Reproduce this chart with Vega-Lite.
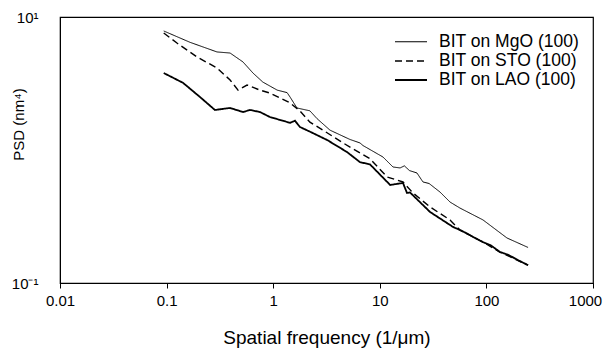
{
  "$schema": "https://vega.github.io/schema/vega-lite/v6.json",
  "width": 533,
  "height": 266,
  "autosize": {"type": "none"},
  "padding": {"left": 60, "top": 17, "right": 15, "bottom": 71},
  "background": "white",
  "config": {
    "font": "Liberation Sans",
    "view": {"stroke": "black", "strokeWidth": 1.2},
    "axis": {"grid": false, "domainColor": "black", "tickColor": "black", "labelColor": "black", "titleColor": "black", "titleFontWeight": "normal"}
  },
  "data": {"values": [
    {"s": "BIT on MgO (100)", "f": 0.094, "p": 7.85},
    {"s": "BIT on MgO (100)", "f": 0.166, "p": 6.45},
    {"s": "BIT on MgO (100)", "f": 0.297, "p": 5.46},
    {"s": "BIT on MgO (100)", "f": 0.394, "p": 5.36},
    {"s": "BIT on MgO (100)", "f": 0.521, "p": 4.59},
    {"s": "BIT on MgO (100)", "f": 0.646, "p": 3.79},
    {"s": "BIT on MgO (100)", "f": 0.80, "p": 3.24},
    {"s": "BIT on MgO (100)", "f": 1.09, "p": 2.82},
    {"s": "BIT on MgO (100)", "f": 1.35, "p": 2.70},
    {"s": "BIT on MgO (100)", "f": 1.44, "p": 2.50},
    {"s": "BIT on MgO (100)", "f": 1.67, "p": 2.07},
    {"s": "BIT on MgO (100)", "f": 2.21, "p": 1.97},
    {"s": "BIT on MgO (100)", "f": 2.58, "p": 1.72},
    {"s": "BIT on MgO (100)", "f": 3.41, "p": 1.41},
    {"s": "BIT on MgO (100)", "f": 5.25, "p": 1.20},
    {"s": "BIT on MgO (100)", "f": 6.52, "p": 1.13},
    {"s": "BIT on MgO (100)", "f": 6.96, "p": 1.08},
    {"s": "BIT on MgO (100)", "f": 10.7, "p": 0.886},
    {"s": "BIT on MgO (100)", "f": 13.3, "p": 0.745},
    {"s": "BIT on MgO (100)", "f": 15.5, "p": 0.733},
    {"s": "BIT on MgO (100)", "f": 17.0, "p": 0.76},
    {"s": "BIT on MgO (100)", "f": 19.0, "p": 0.70},
    {"s": "BIT on MgO (100)", "f": 22.3, "p": 0.672},
    {"s": "BIT on MgO (100)", "f": 25.4, "p": 0.575},
    {"s": "BIT on MgO (100)", "f": 29.0, "p": 0.56},
    {"s": "BIT on MgO (100)", "f": 36.7, "p": 0.483},
    {"s": "BIT on MgO (100)", "f": 45.6, "p": 0.406},
    {"s": "BIT on MgO (100)", "f": 56.5, "p": 0.366},
    {"s": "BIT on MgO (100)", "f": 92.9, "p": 0.298},
    {"s": "BIT on MgO (100)", "f": 156, "p": 0.218},
    {"s": "BIT on MgO (100)", "f": 246, "p": 0.185},
    {"s": "BIT on STO (100)", "f": 0.094, "p": 7.58},
    {"s": "BIT on STO (100)", "f": 0.125, "p": 6.38},
    {"s": "BIT on STO (100)", "f": 0.193, "p": 5.00},
    {"s": "BIT on STO (100)", "f": 0.297, "p": 4.14},
    {"s": "BIT on STO (100)", "f": 0.394, "p": 3.36},
    {"s": "BIT on STO (100)", "f": 0.468, "p": 2.82},
    {"s": "BIT on STO (100)", "f": 0.568, "p": 3.08},
    {"s": "BIT on STO (100)", "f": 0.751, "p": 2.82},
    {"s": "BIT on STO (100)", "f": 0.933, "p": 2.68},
    {"s": "BIT on STO (100)", "f": 1.44, "p": 2.26},
    {"s": "BIT on STO (100)", "f": 1.78, "p": 1.97},
    {"s": "BIT on STO (100)", "f": 2.21, "p": 1.62},
    {"s": "BIT on STO (100)", "f": 2.93, "p": 1.41},
    {"s": "BIT on STO (100)", "f": 4.52, "p": 1.13},
    {"s": "BIT on STO (100)", "f": 6.52, "p": 0.949},
    {"s": "BIT on STO (100)", "f": 8.09, "p": 0.86},
    {"s": "BIT on STO (100)", "f": 11.7, "p": 0.627},
    {"s": "BIT on STO (100)", "f": 16.5, "p": 0.575},
    {"s": "BIT on STO (100)", "f": 20.5, "p": 0.475},
    {"s": "BIT on STO (100)", "f": 29.6, "p": 0.373},
    {"s": "BIT on STO (100)", "f": 45.6, "p": 0.298},
    {"s": "BIT on STO (100)", "f": 56.5, "p": 0.250},
    {"s": "BIT on STO (100)", "f": 92.9, "p": 0.203},
    {"s": "BIT on STO (100)", "f": 134, "p": 0.171},
    {"s": "BIT on STO (100)", "f": 246, "p": 0.136},
    {"s": "BIT on LAO (100)", "f": 0.094, "p": 3.79},
    {"s": "BIT on LAO (100)", "f": 0.1425, "p": 3.20},
    {"s": "BIT on LAO (100)", "f": 0.206, "p": 2.50},
    {"s": "BIT on LAO (100)", "f": 0.284, "p": 2.00},
    {"s": "BIT on LAO (100)", "f": 0.394, "p": 2.07},
    {"s": "BIT on LAO (100)", "f": 0.521, "p": 1.93},
    {"s": "BIT on LAO (100)", "f": 0.606, "p": 2.00},
    {"s": "BIT on LAO (100)", "f": 0.751, "p": 1.93},
    {"s": "BIT on LAO (100)", "f": 0.933, "p": 1.77},
    {"s": "BIT on LAO (100)", "f": 1.44, "p": 1.60},
    {"s": "BIT on LAO (100)", "f": 1.60, "p": 1.66},
    {"s": "BIT on LAO (100)", "f": 1.78, "p": 1.49},
    {"s": "BIT on LAO (100)", "f": 2.36, "p": 1.34},
    {"s": "BIT on LAO (100)", "f": 3.20, "p": 1.19},
    {"s": "BIT on LAO (100)", "f": 4.92, "p": 0.966},
    {"s": "BIT on LAO (100)", "f": 6.52, "p": 0.81},
    {"s": "BIT on LAO (100)", "f": 8.09, "p": 0.78},
    {"s": "BIT on LAO (100)", "f": 12.5, "p": 0.546},
    {"s": "BIT on LAO (100)", "f": 16.5, "p": 0.565},
    {"s": "BIT on LAO (100)", "f": 18.0, "p": 0.475},
    {"s": "BIT on LAO (100)", "f": 19.2, "p": 0.48},
    {"s": "BIT on LAO (100)", "f": 29.6, "p": 0.342},
    {"s": "BIT on LAO (100)", "f": 48.6, "p": 0.264},
    {"s": "BIT on LAO (100)", "f": 60, "p": 0.245},
    {"s": "BIT on LAO (100)", "f": 75, "p": 0.222},
    {"s": "BIT on LAO (100)", "f": 92.9, "p": 0.203},
    {"s": "BIT on LAO (100)", "f": 110, "p": 0.192},
    {"s": "BIT on LAO (100)", "f": 134, "p": 0.171},
    {"s": "BIT on LAO (100)", "f": 160, "p": 0.163},
    {"s": "BIT on LAO (100)", "f": 200, "p": 0.148},
    {"s": "BIT on LAO (100)", "f": 246, "p": 0.136}
  ]},
  "mark": {"type": "line", "color": "black"},
  "encoding": {
    "x": {
      "field": "f", "type": "quantitative",
      "scale": {"type": "log", "domain": [0.01, 1000], "nice": false},
      "axis": {"values": [0.01, 0.1, 1, 10, 100, 1000], "labelExpr": "datum.value >= 1 ? format(datum.value, 'd') : format(datum.value, '~g')", "title": "Spatial frequency (1/μm)", "labelFontSize": 15, "titleFontSize": 19, "tickSize": 5, "labelPadding": 5, "titlePadding": 20, "labelFlush": false, "labelOffset": {"expr": "datum.value > 500 ? -8 : 0"}}
    },
    "y": {
      "field": "p", "type": "quantitative",
      "scale": {"type": "log", "domain": [0.1, 10], "nice": false},
      "axis": {"values": [0.1, 10], "labelExpr": "datum.value > 1 ? '10¹' : '10⁻¹'", "title": "PSD (nm⁴)", "ticks": false, "labelFontSize": 15, "titleFontSize": 15, "labelPadding": 22, "titleX": -34, "titleY": 107, "titleAlign": "center", "labelFlush": false}
    },
    "strokeDash": {
      "field": "s", "type": "nominal",
      "scale": {"domain": ["BIT on MgO (100)", "BIT on STO (100)", "BIT on LAO (100)"], "range": [[1, 0], [7, 4], [1, 0]]},
      "legend": {"orient": "none", "legendX": 342, "legendY": 16, "title": null, "labelFontSize": 17.5, "symbolType": "M-2,0H2", "symbolSize": 256, "symbolStrokeColor": "black", "labelColor": "black", "rowPadding": 1, "labelOffset": 19}
    },
    "strokeWidth": {
      "field": "s", "type": "nominal",
      "scale": {"domain": ["BIT on MgO (100)", "BIT on STO (100)", "BIT on LAO (100)"], "range": [1, 1.8, 2.4]},
      "legend": {"orient": "none", "legendX": 342, "legendY": 16, "title": null, "labelFontSize": 17.5, "symbolType": "M-2,0H2", "symbolSize": 256, "symbolStrokeColor": "black", "labelColor": "black", "rowPadding": 1, "labelOffset": 19}
    }
  }
}
